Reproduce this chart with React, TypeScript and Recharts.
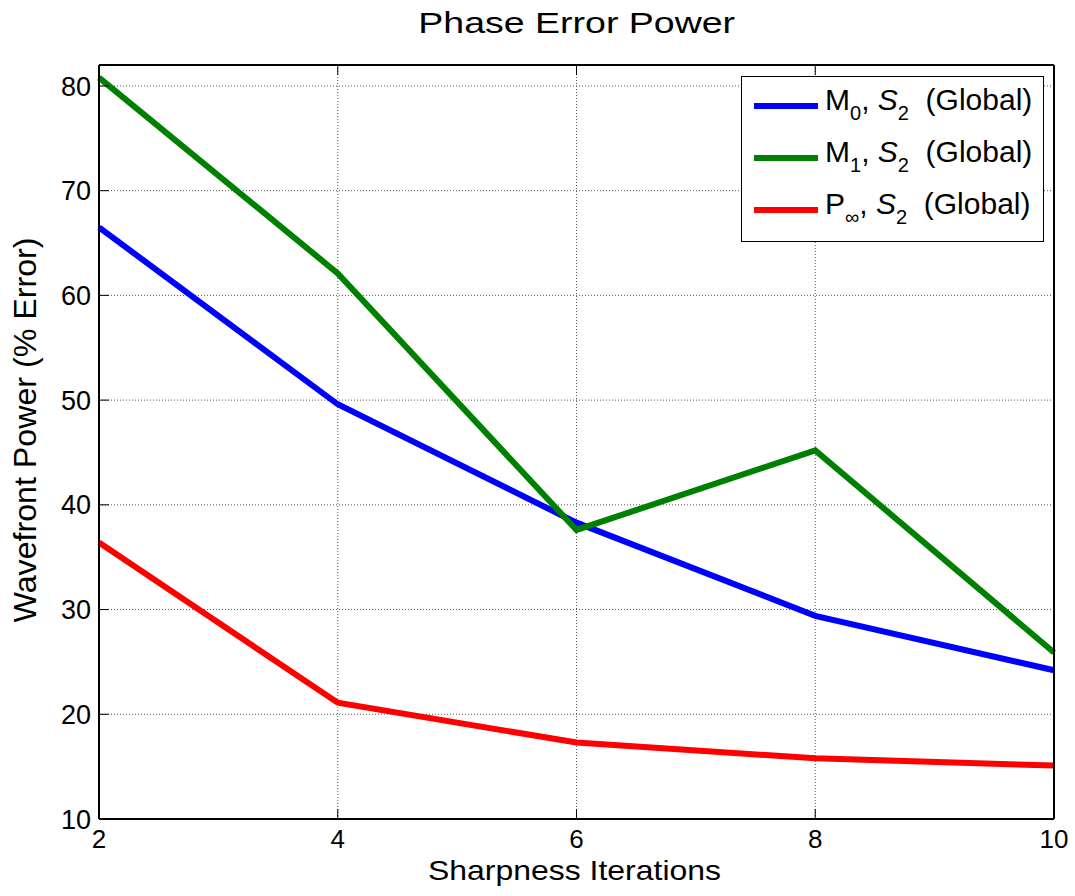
import React from "react";
import { LineChart, Line, XAxis, YAxis, CartesianGrid } from "recharts";

const iterations = [2, 4, 6, 8, 10];
const m0Global = [66.5, 49.6, 38.3, 29.4, 24.2];
const m1Global = [80.8, 62.1, 37.6, 45.2, 25.9];
const pInfGlobal = [36.4, 21.1, 17.3, 15.8, 15.1];
const xTicks = [2, 4, 6, 8, 10];
const yTicks = [10, 20, 30, 40, 50, 60, 70, 80];

const data = iterations.map((it, i) => ({
  it,
  m0: m0Global[i],
  m1: m1Global[i],
  pinf: pInfGlobal[i],
}));

const FONT = "'Liberation Sans', Arial, sans-serif";

const YLabel = ({ viewBox }: any) => {
  const cx = viewBox.x + 36;
  const cy = viewBox.y + viewBox.height / 2 - 12;
  return (
    <text
      x={cx}
      y={cy}
      transform={`rotate(-90 ${cx} ${cy})`}
      textAnchor="middle"
      fontSize={31}
      fontFamily={FONT}
      fill="#000"
      textLength={385}
      lengthAdjust="spacingAndGlyphs"
    >
      Wavefront Power (% Error)
    </text>
  );
};

const XLabel = ({ viewBox }: any) => (
  <text
    x={viewBox.x + viewBox.width / 2 - 2}
    y={viewBox.y + 61}
    textAnchor="middle"
    fontSize={28}
    fontFamily={FONT}
    fill="#000"
    textLength={293}
    lengthAdjust="spacingAndGlyphs"
  >
    Sharpness Iterations
  </text>
);

const legendItems = [
  { color: "#0000ff", main: "M", sub: "0" },
  { color: "#008000", main: "M", sub: "1" },
  { color: "#ff0000", main: "P", sub: "\u221e" },
];

const LegendBox = () => (
  <div
    style={{
      position: "absolute",
      left: 741,
      top: 76,
      border: "1.5px solid #000",
      background: "#fff",
      width: 303,
      height: 166,
      boxSizing: "border-box",
      padding: "3px 0 0 12px",
      fontFamily: FONT,
      fontSize: 30,
      color: "#000",
    }}
  >
    {legendItems.map((it) => (
      <div key={it.sub} style={{ display: "flex", alignItems: "center", height: 52 }}>
        <div style={{ width: 64, height: 6, background: it.color, marginRight: 7 }} />
        <span style={{ whiteSpace: "nowrap", lineHeight: "30px" }}>
          {it.main}
          <sub style={{ fontSize: 20, verticalAlign: "-10px" }}>{it.sub}</sub>,{" "}
          <i>S</i>
          <sub style={{ fontSize: 20, verticalAlign: "-10px" }}>2</sub>
          {"\u00a0 (Global)"}
        </span>
      </div>
    ))}
  </div>
);

export default function App() {
  return (
    <div style={{ position: "absolute", left: 0, top: 0, width: 1075, height: 896, background: "#fff" }}>
      <div
        style={{
          position: "absolute",
          left: 99,
          width: 955,
          top: 6,
          textAlign: "center",
          fontFamily: FONT,
          fontSize: 30,
          lineHeight: "34px",
          color: "#000",
        }}
      >
        <span style={{ display: "inline-block", transform: "scaleX(1.25)" }}>Phase Error Power</span>
      </div>
      <LineChart
        width={1075}
        height={896}
        data={data}
        margin={{ top: 64, right: 20, bottom: 0, left: 0 }}
      >
        <CartesianGrid xAxisId="b" yAxisId="l" stroke="#555" strokeDasharray="1 2" strokeWidth={1} />
        <XAxis
          xAxisId="b"
          dataKey="it"
          type="number"
          domain={[2, 10]}
          ticks={xTicks}
          height={77}
          axisLine={{ stroke: "#000", strokeWidth: 2 }}
          tickLine={{ stroke: "#000", strokeWidth: 1 }}
          tickSize={-10}
          tickMargin={21}
          tick={{ fill: "#000", fontSize: 26, fontFamily: FONT }}
          label={<XLabel />}
        />
        <XAxis
          xAxisId="t"
          orientation="top"
          dataKey="it"
          type="number"
          domain={[2, 10]}
          ticks={xTicks}
          height={1}
          axisLine={{ stroke: "#000", strokeWidth: 2 }}
          tickLine={{ stroke: "#000", strokeWidth: 1 }}
          tickSize={-10}
          tickFormatter={() => ""}
        />
        <YAxis
          yAxisId="l"
          type="number"
          domain={[10, 82]}
          ticks={yTicks}
          width={99}
          axisLine={{ stroke: "#000", strokeWidth: 2 }}
          tickLine={{ stroke: "#000", strokeWidth: 1 }}
          tickSize={-10}
          tickMargin={18}
          tick={{ fill: "#000", fontSize: 27, fontFamily: FONT }}
          label={<YLabel />}
        />
        <YAxis
          yAxisId="r"
          orientation="right"
          type="number"
          domain={[10, 82]}
          ticks={yTicks}
          width={1}
          axisLine={{ stroke: "#000", strokeWidth: 2 }}
          tickLine={{ stroke: "#000", strokeWidth: 1 }}
          tickSize={-10}
          tickFormatter={() => ""}
        />
        <Line xAxisId="b" yAxisId="l" dataKey="m0" stroke="#0000ff" strokeWidth={6} dot={false} isAnimationActive={false} />
        <Line xAxisId="b" yAxisId="l" dataKey="m1" stroke="#008000" strokeWidth={6} dot={false} isAnimationActive={false} />
        <Line xAxisId="b" yAxisId="l" dataKey="pinf" stroke="#ff0000" strokeWidth={6} dot={false} isAnimationActive={false} />
      </LineChart>
      <LegendBox />
    </div>
  );
}
